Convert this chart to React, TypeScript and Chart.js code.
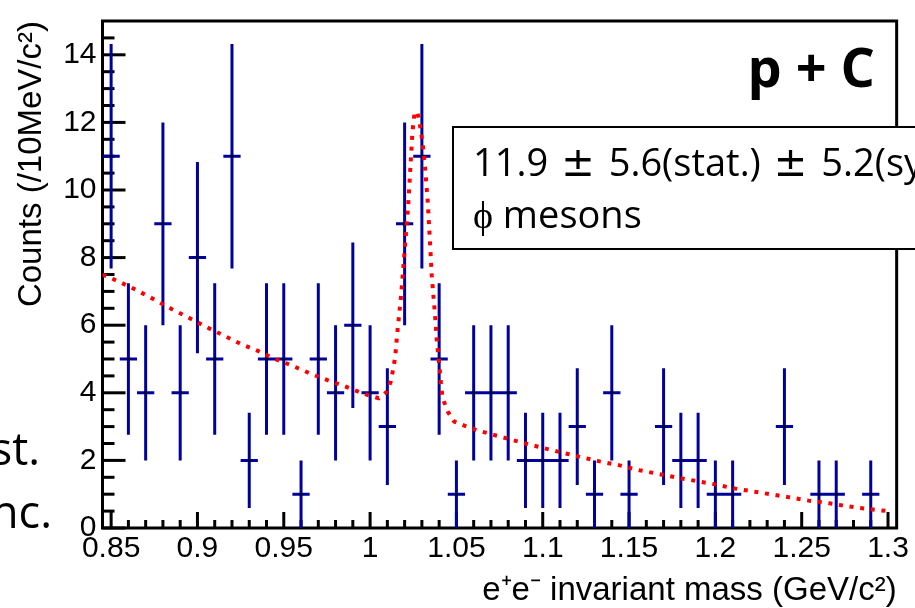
import React, { useEffect, useRef } from "react";
import { Chart, registerables } from "chart.js";

Chart.register(...registerables);

// ---- Data ----
const binCenters = [
  0.85, 0.86, 0.87, 0.88, 0.89, 0.9, 0.91, 0.92, 0.93, 0.94,
  0.95, 0.96, 0.97, 0.98, 0.99, 1.0, 1.01, 1.02, 1.03, 1.04,
  1.05, 1.06, 1.07, 1.08, 1.09, 1.1, 1.11, 1.12, 1.13, 1.14,
  1.15, 1.17, 1.18, 1.19, 1.2, 1.21, 1.24, 1.26, 1.27, 1.29,
];
const counts = [
  11, 5, 4, 9, 4, 8, 5, 11, 2, 5,
  5, 1, 5, 4, 6, 4, 3, 9, 11, 5,
  1, 4, 4, 4, 2, 2, 2, 3, 1, 4,
  1, 3, 2, 2, 1, 1, 3, 1, 1, 1,
];
const countErrors = [
  3.32, 2.24, 2, 3, 2, 2.83, 2.24, 3.32, 1.41, 2.24,
  2.24, 1, 2.24, 2, 2.45, 2, 1.73, 3, 3.32, 2.24,
  1, 2, 2, 2, 1.41, 1.41, 1.41, 1.73, 1, 2,
  1, 1.73, 1.41, 1.41, 1, 1, 1.73, 1, 1, 1,
];
const binHalfWidth = 0.005;

const fitMass = [
  0.845, 0.855, 0.865, 0.875, 0.885, 0.895, 0.905, 0.915, 0.925, 0.935,
  0.945, 0.955, 0.965, 0.975, 0.985, 0.995, 1.0, 1.005, 1.0095, 1.012,
  1.0133, 1.0145, 1.016, 1.018, 1.02, 1.022, 1.0235, 1.0245, 1.0257, 1.0272,
  1.0286, 1.0305, 1.0318, 1.0334, 1.0347, 1.0357, 1.0367, 1.0378, 1.0387, 1.0401,
  1.0412, 1.042, 1.0449, 1.0487, 1.055, 1.061, 1.067, 1.077, 1.09, 1.1,
  1.112, 1.122, 1.133, 1.144, 1.156, 1.167, 1.178, 1.189, 1.2, 1.21,
  1.222, 1.233, 1.246, 1.254, 1.266, 1.277, 1.289, 1.3,
];
const fitCounts = [
  7.5, 7.28, 7.03, 6.76, 6.48, 6.22, 5.95, 5.7, 5.45, 5.24,
  5.0, 4.8, 4.58, 4.38, 4.2, 4.0, 3.91, 3.84, 4.02, 4.34,
  4.68, 5.05, 5.9, 6.9, 8.2, 9.5, 10.8, 11.7, 12.27, 12.32,
  12.03, 11.35, 10.68, 9.65, 8.45, 7.48, 6.86, 6.18, 5.5, 4.8,
  4.2, 3.85, 3.45, 3.15, 3.02, 2.91, 2.82, 2.68, 2.5, 2.37,
  2.22, 2.1, 1.97, 1.86, 1.71, 1.6, 1.49, 1.39, 1.29, 1.18,
  1.08, 0.99, 0.88, 0.81, 0.73, 0.64, 0.56, 0.5,
];

const xTickValues = [0.85, 0.9, 0.95, 1.0, 1.05, 1.1, 1.15, 1.2, 1.25, 1.3];
const xTickLabels = ["0.85", "0.9", "0.95", "1", "1.05", "1.1", "1.15", "1.2", "1.25", "1.3"];
const yTickValues = [0, 2, 4, 6, 8, 10, 12, 14];
const yTickLabels = ["0", "2", "4", "6", "8", "10", "12", "14"];

const xTitle = "e\u207Ae\u207B invariant mass (GeV/c\u00B2)";
const yTitle = "Counts (/10MeV/c\u00B2)";
const systemLabel = "p + C";
const yieldParts = ["11.9", "\u00B1", "5.6(stat.)", "\u00B1", "5.2(syst.)"];
const yieldLine2 = "\u03D5 mesons";
const sideText1 = "st.";
const sideText2 = "nc.";

const BLUE = "#00009c";
const RED = "#ff0000";

const decorPlugin = {
  id: "decor",
  beforeDatasetsDraw(chart: any) {
    const { ctx, chartArea, scales } = chart;
    const xs = scales.x;
    const ys = scales.y;
    ctx.save();
    ctx.strokeStyle = "#000";
    ctx.lineWidth = 3;
    ctx.lineCap = "butt";
    // x ticks (inward)
    for (let i = 0; i <= 45; i++) {
      const v = 0.85 + i * 0.01;
      const major = i % 5 === 0;
      const px = xs.getPixelForValue(v);
      ctx.beginPath();
      ctx.moveTo(px, chartArea.bottom);
      ctx.lineTo(px, chartArea.bottom - (major ? 16 : 8));
      ctx.stroke();
    }
    // y ticks (inward)
    for (let i = 0; i <= 29; i++) {
      const v = i * 0.5;
      const major = i % 4 === 0;
      const py = ys.getPixelForValue(v);
      ctx.beginPath();
      ctx.moveTo(chartArea.left, py);
      ctx.lineTo(chartArea.left + (major ? 23 : 12), py);
      ctx.stroke();
    }
    ctx.strokeRect(chartArea.left, chartArea.top, chartArea.right - chartArea.left, chartArea.bottom - chartArea.top);
    ctx.restore();
  },
  afterDraw(chart: any) {
    const { ctx } = chart;
    ctx.save();
    ctx.fillStyle = "#000";
    ctx.textBaseline = "alphabetic";
    ctx.font = 'bold 54px "Open Sans"';
    ctx.textAlign = "right";
    ctx.fillText(systemLabel, 875, 87);

    ctx.fillStyle = "#fff";
    ctx.fillRect(453, 127, 480, 122);
    ctx.strokeStyle = "#000";
    ctx.lineWidth = 2;
    ctx.strokeRect(453, 127, 480, 122);

    ctx.fillStyle = "#000";
    ctx.textAlign = "left";
    let x = 473;
    yieldParts.forEach((part, i) => {
      const isPm = i % 2 === 1;
      ctx.font = isPm ? '40px "DejaVu Sans"' : '38px "Open Sans"';
      ctx.fillText(part, x, 176);
      x += ctx.measureText(part).width + (isPm ? 14 : 13);
    });
    ctx.font = '38px "Open Sans"';
    ctx.fillText(yieldLine2, 473, 228);

    ctx.textAlign = "right";
    ctx.font = '45px "Open Sans"';
    ctx.fillText(sideText1, 40, 465);
    ctx.fillText(sideText2, 52, 528);
    ctx.restore();
  },
};

export default function App() {
  const canvasRef = useRef<HTMLCanvasElement | null>(null);

  useEffect(() => {
    const canvas = canvasRef.current;
    if (!canvas) return;

    const vErr: any[] = [];
    const hErr: any[] = [];
    const centers: any[] = [];
    binCenters.forEach((x, i) => {
      vErr.push({ x, y: counts[i] - countErrors[i] }, { x, y: counts[i] + countErrors[i] }, { x, y: null });
      hErr.push({ x: x - binHalfWidth, y: counts[i] }, { x: x + binHalfWidth, y: counts[i] }, { x, y: null });
      centers.push({ x, y: counts[i] });
    });
    const fit = fitMass.map((x, i) => ({ x, y: fitCounts[i] }));

    Chart.defaults.font.family = '"Liberation Sans", Arial, sans-serif';

    const chart = new Chart(canvas, {
      type: "line",
      data: {
        datasets: [
          {
            label: "fit",
            data: fit,
            borderColor: RED,
            borderWidth: 4,
            borderDash: [4, 6.7],
            pointRadius: 0,
            tension: 0,
            fill: false,
          },
          {
            label: "centers",
            data: centers,
            showLine: false,
            pointStyle: "rect",
            pointRadius: 1.8,
            pointBackgroundColor: "#000",
            pointBorderWidth: 0,
            borderColor: "#000",
          },
          {
            label: "xerr",
            data: hErr,
            borderColor: BLUE,
            borderWidth: 3,
            pointRadius: 0,
            spanGaps: false,
            tension: 0,
            fill: false,
          },
          {
            label: "yerr",
            data: vErr,
            borderColor: BLUE,
            borderWidth: 3,
            pointRadius: 0,
            spanGaps: false,
            tension: 0,
            fill: false,
          },
        ],
      },
      options: {
        responsive: false,
        animation: false,
        devicePixelRatio: 1,
        layout: { padding: { left: 0, right: 12, top: 11, bottom: 0 } },
        plugins: {
          legend: { display: false },
          tooltip: { enabled: false },
        },
        scales: {
          x: {
            type: "linear",
            min: 0.845,
            max: 1.305,
            grid: { display: false, drawTicks: false },
            border: { display: false },
            afterBuildTicks: (axis: any) => {
              axis.ticks = xTickValues.map((v) => ({ value: v }));
            },
            afterFit: (axis: any) => {
              axis.height = 80;
            },
            ticks: {
              autoSkip: false,
              maxRotation: 0,
              padding: 6,
              color: "#000",
              font: { size: 30, lineHeight: 1 },
              callback: (_v: any, i: number) => xTickLabels[i],
            },
            title: {
              display: true,
              text: xTitle,
              align: "end",
              color: "#000",
              font: { size: 33, lineHeight: 1 },
              padding: { top: 0, bottom: 1 },
            },
          },
          y: {
            type: "linear",
            min: 0,
            max: 15,
            grid: { display: false, drawTicks: false },
            border: { display: false },
            afterBuildTicks: (axis: any) => {
              axis.ticks = yTickValues.map((v) => ({ value: v }));
            },
            afterFit: (axis: any) => {
              axis.width = 102.5;
            },
            ticks: {
              autoSkip: false,
              padding: 6,
              color: "#000",
              font: { size: 30, lineHeight: 1 },
              callback: (_v: any, i: number) => yTickLabels[i],
            },
            title: {
              display: true,
              text: yTitle,
              align: "end",
              color: "#000",
              font: { size: 33, lineHeight: 1 },
              padding: { top: 15, bottom: 0 },
            },
          },
        },
      },
      plugins: [decorPlugin],
    } as any);

    return () => chart.destroy();
  }, []);

  return (
    <div style={{ position: "fixed", left: 0, top: 0, width: 915, height: 608, background: "#fff" }}>
      <canvas ref={canvasRef} width={915} height={608} style={{ width: 915, height: 608 }} />
    </div>
  );
}
